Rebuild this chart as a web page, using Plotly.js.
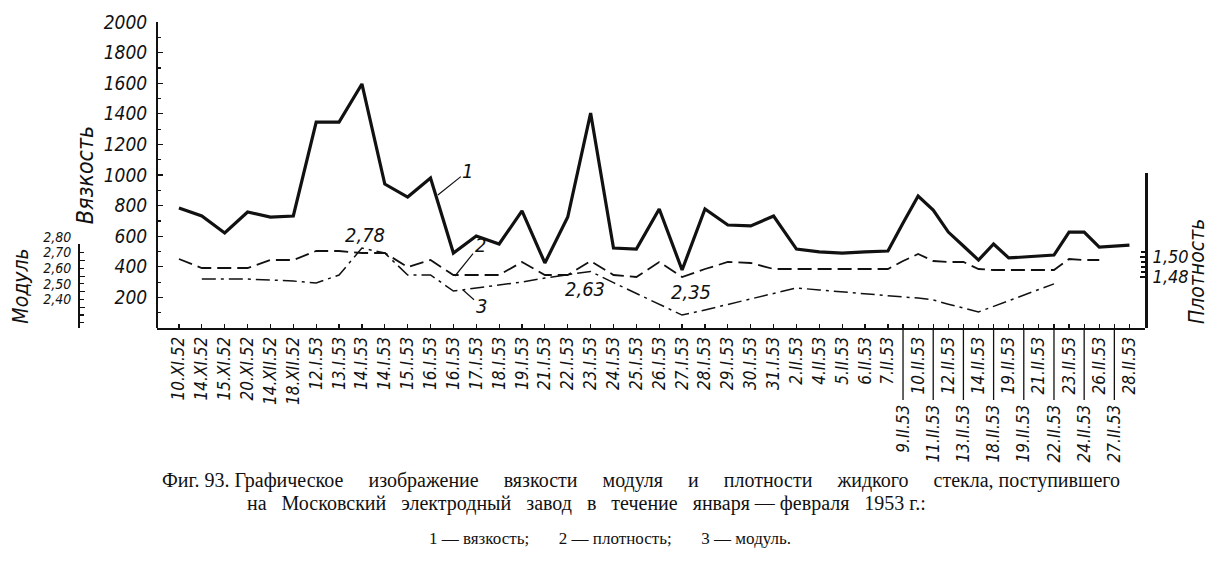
<!DOCTYPE html>
<html>
<head>
<meta charset="utf-8">
<script src="https://cdn.plot.ly/plotly-3.0.1.min.js"></script>
<style>html,body{margin:0;padding:0;background:#fff;}#chart{width:1222px;height:564px;}</style>
</head>
<body>
<div id="chart"></div>
<script>
// ---- data ----
const categories = ["10.XI.52","14.XI.52","15.XI.52","20.XI.52","14.XII.52","18.XII.52",
  "12.I.53","13.I.53","14.I.53","14.I.53","15.I.53","16.I.53","16.I.53","17.I.53","18.I.53","19.I.53",
  "21.I.53","22.I.53","23.I.53","24.I.53","25.I.53","26.I.53","27.I.53","28.I.53","29.I.53","30.I.53",
  "31.I.53","2.II.53","4.II.53","5.II.53","6.II.53","7.II.53","9.II.53","10.II.53","11.II.53","12.II.53",
  "13.II.53","14.II.53","18.II.53","19.II.53","19.II.53","21.II.53","22.II.53","23.II.53","24.II.53",
  "26.II.53","27.II.53","28.II.53"];

// 1 — вязкость
const viscosity = [784,732,621,758,725,732,1346,1346,1595,941,856,980,490,601,549,765,425,725,1405,523,
  516,778,379,778,673,667,732,516,497,490,497,503,686,863,771,627,536,444,549,458,464,471,477,627,627,
  529,536,542];

// 2 — плотность
const density = [1.498,1.489,1.489,1.489,1.497,1.497,1.506,1.506,1.504,1.504,1.490,1.497,1.482,1.482,
  1.482,1.495,1.482,1.482,1.496,1.482,1.480,1.495,1.480,1.488,1.495,1.494,1.488,1.488,1.488,1.488,1.488,
  1.488,1.496,1.503,1.496,1.495,1.495,1.488,1.487,1.487,1.487,1.487,1.487,1.498,1.497,1.497,null,null];

// 3 — модуль
const modulus = [null,2.581,2.581,2.581,2.575,2.568,2.556,2.607,2.78,2.748,2.607,2.607,2.504,2.524,2.543,
  2.562,2.588,2.607,2.63,2.558,2.49,2.42,2.35,2.383,2.418,2.453,2.488,2.524,2.511,2.498,2.485,2.472,2.466,
  2.46,2.447,2.42,2.395,2.37,2.406,2.442,2.48,2.513,2.55,null,null,null,null,null];

const viscTicks = [200,400,600,800,1000,1200,1400,1600,1800,2000];
const modTicks = [2.80,2.70,2.60,2.50,2.40];
const modTickText = ["2,80","2,70","2,60","2,50","2,40"];
const densTicks = [1.50,1.48];
const densTickText = ["1,50","1,48"];
const marked = [{i:8, t:"2,78"},{i:18, t:"2,63"},{i:22, t:"2,35"}];

const caption1 = "Фиг. 93. Графическое  изображение  вязкости  модуля  и  плотности  жидкого  стекла, поступившего";
const caption2 = "на  Московский  электродный  завод  в  течение  января — февраля  1953 г.:";
const caption3 = "1 — вязкость;  2 — плотность;  3 — модуль.";

// ---- layout helpers ----
const W = 1222, H = 564;
const NB = "\u00a0";
const sp = (s, n) => s.replace(/  /g, NB.repeat(n));
// the last 16 dates are printed on a tighter spacing in the original
const xpos = categories.map((c, i) => i <= 31 ? i : 31 + (i - 31) * 0.66);
const isLower = i => i >= 32 && (i - 32) % 2 === 0;
const tickText = categories.map((c, i) => isLower(i) ? c + NB.repeat(14) : c);

const px = p => p / W;
const py = p => 1 - p / H;

const ital = (size) => ({family: "Liberation Sans Narrow, DejaVu Sans Condensed, sans-serif", size: size, color: "#111", style: "italic"});
const serif = (size) => ({family: "Liberation Serif, DejaVu Serif, serif", size: size, color: "#111"});
const ink = "#111";

const traces = [
  {x: xpos, y: viscosity, xaxis: "x", yaxis: "y", mode: "lines", name: "1 — вязкость",
   line: {color: ink, width: 3.2}, hoverinfo: "skip"},
  {x: xpos, y: density, xaxis: "x", yaxis: "y3", mode: "lines", name: "2 — плотность",
   line: {color: ink, width: 1.8, dash: "14px,6px"}, hoverinfo: "skip"},
  {x: xpos, y: modulus, xaxis: "x", yaxis: "y2", mode: "lines", name: "3 — модуль",
   line: {color: ink, width: 1.5, dash: "14px,5px,3px,5px"}, hoverinfo: "skip"}
];

const shapes = [];
categories.forEach((c, i) => {
  if (isLower(i)) {
    shapes.push({type: "line", xref: "x", yref: "paper", x0: xpos[i], x1: xpos[i],
      y0: py(329), y1: py(400), line: {color: ink, width: 1.3}});
  }
});

const annotations = [
  {xref: "paper", yref: "paper", x: px(641), y: py(480), text: sp(caption1, 5), showarrow: false, font: serif(20), xanchor: "center", yanchor: "middle"},
  {xref: "paper", yref: "paper", x: px(586), y: py(503), text: sp(caption2, 3), showarrow: false, font: serif(20), xanchor: "center", yanchor: "middle"},
  {xref: "paper", yref: "paper", x: px(610), y: py(538), text: sp(caption3, 7), showarrow: false, font: serif(17), xanchor: "center", yanchor: "middle"},
  {xref: "paper", yref: "paper", x: px(1197), y: py(272), text: "Плотность", textangle: -90, showarrow: false, font: ital(21), xanchor: "center", yanchor: "middle"},
  // series numbers with leader lines
  {xref: "x", yref: "y", x: 11.32, y: 869, text: "1", showarrow: true, arrowhead: 0, arrowwidth: 1.2, arrowcolor: ink, ax: 30, ay: -24, font: ital(20)},
  {xref: "x", yref: "y3", x: 12.07, y: 1.481, text: "2", showarrow: true, arrowhead: 0, arrowwidth: 1.2, arrowcolor: ink, ax: 25, ay: -31, font: ital(20)},
  {xref: "x", yref: "y2", x: 12.42, y: 2.511, text: "3", showarrow: true, arrowhead: 0, arrowwidth: 1.2, arrowcolor: ink, ax: 18, ay: 16, font: ital(20)}
];
const shifts = {8: [3, 13], 18: [-6, -18], 22: [9, 23]};
marked.forEach(m => {
  annotations.push({xref: "x", yref: "y2", x: xpos[m.i], y: modulus[m.i], text: m.t, showarrow: false,
    xshift: shifts[m.i][0], yshift: shifts[m.i][1], font: ital(20)});
});

const layout = {
  width: W, height: H,
  margin: {l: 0, r: 0, t: 0, b: 0},
  paper_bgcolor: "#fff", plot_bgcolor: "rgba(0,0,0,0)",
  showlegend: false,
  xaxis: {domain: [px(157), px(1145)], range: [-0.96, 42.24], anchor: "y",
    tickmode: "array", tickvals: xpos, ticktext: tickText, tickangle: -90,
    ticks: "inside", ticklen: 4, tickwidth: 1.2, tickcolor: ink,
    showline: true, linecolor: ink, linewidth: 2, showgrid: false, zeroline: false,
    tickfont: ital(17), ticklabelstandoff: 0, automargin: false},
  yaxis: {domain: [py(328), py(22)], range: [0, 2000], anchor: "free", position: px(157),
    tickmode: "array", tickvals: viscTicks, ticks: "inside", ticklen: 5, tickwidth: 1.2, tickcolor: ink,
    minor: {tickmode: "array", tickvals: [100,300,500,700,900,1100,1300,1500,1700,1900], ticks: "inside", ticklen: 3, tickcolor: ink},
    showline: true, linecolor: ink, linewidth: 2, showgrid: false, zeroline: false,
    tickfont: ital(19), ticklabelstandoff: 5,
    title: {text: "Вязкость", font: ital(23), standoff: 3}, automargin: false},
  yaxis2: {domain: [py(328), py(244)], range: [2.267, 2.806], anchor: "free", position: px(79),
    tickmode: "array", tickvals: modTicks, ticktext: modTickText,
    ticks: "inside", ticklen: 5, tickwidth: 1.2, tickcolor: ink,
    minor: {tickmode: "array", tickvals: [2.75,2.65,2.55,2.45,2.35,2.30], ticks: "inside", ticklen: 4, tickcolor: ink},
    showline: true, linecolor: ink, linewidth: 2, showgrid: false, zeroline: false,
    tickfont: ital(14), ticklabelstandoff: 4, ticklabelshift: -8,
    title: {text: "Модуль", font: ital(21), standoff: 8}, automargin: false},
  yaxis3: {domain: [py(328), py(173)], range: [1.429, 1.584], anchor: "x", side: "right",
    tickmode: "array", tickvals: densTicks, ticktext: densTickText,
    ticks: "inside", ticklen: 5, tickwidth: 1.2, tickcolor: ink,
    minor: {tickmode: "array", tickvals: [1.505,1.495,1.49,1.485], ticks: "inside", ticklen: 4, tickcolor: ink},
    showline: true, linecolor: ink, linewidth: 3, showgrid: false, zeroline: false,
    tickfont: ital(18), ticklabelstandoff: 1, automargin: false},
  shapes: shapes,
  annotations: annotations
};

Plotly.newPlot("chart", traces, layout, {staticPlot: true, displayModeBar: false});
</script>
</body>
</html>
